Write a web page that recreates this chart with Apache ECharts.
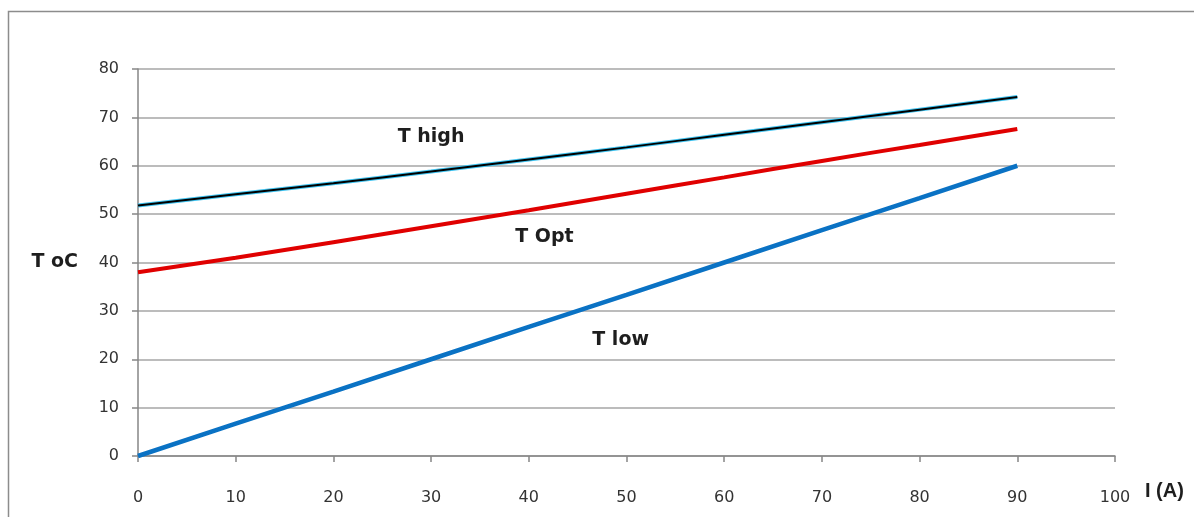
<!DOCTYPE html>
<html>
<head>
<meta charset="utf-8">
<script src="https://cdn.jsdelivr.net/npm/echarts@6/dist/echarts.min.js"></script>
<style>
html,body{margin:0;padding:0;background:#fff;}
#c{width:1194px;height:517px;}
</style>
</head>
<body>
<div id="c"></div>
<script>
// Data
var currentA = [0, 10, 20, 30, 40, 50, 60, 70, 80, 90];
var tHigh = [51.8, 54.1, 56.4, 58.8, 61.3, 63.8, 66.4, 69.0, 71.6, 74.2];
var tOpt  = [38.0, 41.0, 44.2, 47.5, 50.8, 54.2, 57.6, 61.0, 64.3, 67.6];
var tLow  = [0, 6.7, 13.3, 20, 26.7, 33.3, 40, 46.7, 53.3, 60];
var labelNames = ['T high', 'T Opt', 'T low'];
var labelX = [30.0, 41.6, 49.4];
var labelY = [65.9, 45.2, 23.9];
var xTicks = [0, 10, 20, 30, 40, 50, 60, 70, 80, 90, 100];
var yTicks = [0, 10, 20, 30, 40, 50, 60, 70, 80];

function pairs(xs, ys){ return xs.map(function(x,i){ return [x, ys[i]]; }); }

var chart = echarts.init(document.getElementById('c'), null, {renderer:'canvas'});
var labelFont = {fontFamily:'DejaVu Sans', fontWeight:'bold', fontSize:19, color:'#1e1e1e'};
var tickFont = {fontFamily:'DejaVu Sans', fontSize:16, color:'#333'};

chart.setOption({
  animation:false,
  backgroundColor:'#fff',
  graphic:[{
    type:'rect',
    shape:{x:8.5, y:11.5, width:1200, height:520},
    style:{fill:'none', stroke:'#8c8c8c', lineWidth:1.5},
    z:-1
  }],
  grid:{left:138, right:79, top:69, bottom:61},
  xAxis:{
    type:'value', min:xTicks[0], max:xTicks[xTicks.length-1], interval:10,
    name:'I (A)', nameLocation:'end', nameGap:30,
    nameTextStyle:{fontFamily:'Liberation Sans', fontWeight:'bold', fontSize:20, color:'#1e1e1e',
      verticalAlign:'top', padding:[25,0,0,0]},
    axisLine:{show:true, lineStyle:{color:'#868686', width:1.5}},
    axisTick:{show:true, length:6, lineStyle:{color:'#868686', width:1.5}},
    axisLabel:Object.assign({margin:34,
      formatter:function(v){ return xTicks.indexOf(v) >= 0 ? String(v) : ''; }}, tickFont),
    splitLine:{show:false}
  },
  yAxis:{
    type:'value', min:yTicks[0], max:yTicks[yTicks.length-1], interval:10,
    name:'T oC', nameLocation:'middle', nameRotate:0, nameGap:60,
    nameTextStyle:Object.assign({}, labelFont, {padding:[0,0,11,0]}),
    axisLine:{show:true, lineStyle:{color:'#868686', width:1.5}},
    axisTick:{show:true, length:6, lineStyle:{color:'#868686', width:1.5}},
    axisLabel:Object.assign({margin:19,
      formatter:function(v){ return yTicks.indexOf(v) >= 0 ? String(v) : ''; }}, tickFont),
    splitLine:{show:true, lineStyle:{color:'#a6a6a6', width:1.5}}
  },
  series:[
    {type:'line', name:'T low', data:pairs(currentA, tLow), showSymbol:false,
      lineStyle:{color:'#0a72c4', width:4.5}, z:3},
    {type:'line', name:'T Opt', data:pairs(currentA, tOpt), showSymbol:false, smooth:true,
      lineStyle:{color:'#e00000', width:4}, z:3},
    {type:'line', name:'T high edge', data:pairs(currentA, tHigh), showSymbol:false, smooth:true,
      lineStyle:{color:'#3ec3f0', width:4}, z:3},
    {type:'line', name:'T high', data:pairs(currentA, tHigh), showSymbol:false, smooth:true,
      lineStyle:{color:'#000', width:2}, z:4},
    {type:'scatter', data:pairs(labelX, labelY).map(function(p,i){ return {value:p, name:labelNames[i]}; }),
      symbolSize:0, z:5, silent:true, itemStyle:{opacity:1},
      label:Object.assign({show:true, position:'inside', formatter:'{b}', opacity:1}, labelFont)}
  ]
});
</script>
</body>
</html>
